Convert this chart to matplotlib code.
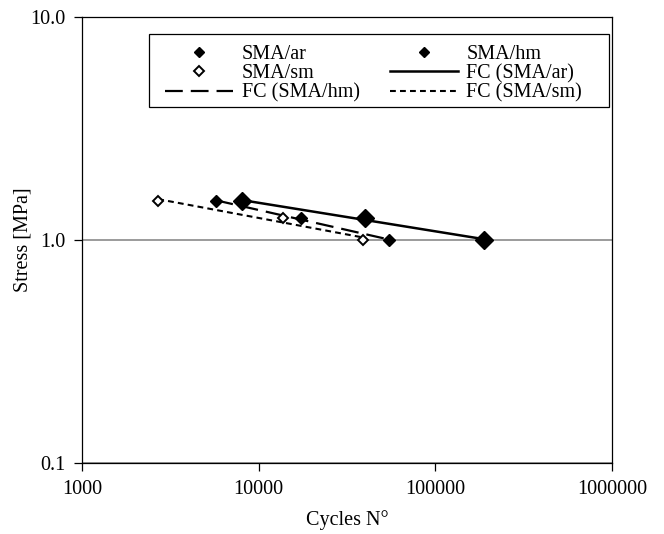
import numpy as np
import matplotlib
matplotlib.use('Agg')
import matplotlib.pyplot as plt
from matplotlib.lines import Line2D
from matplotlib.patches import Rectangle

plt.rcParams['font.family'] = ['Liberation Serif', 'DejaVu Serif']
plt.rcParams['font.size'] = 14.5

# data
cycles_ar = [8000, 40000, 190000]
stress_ar = [1.5, 1.25, 1.0]
cycles_hm = [5700, 17300, 54600]
stress_hm = [1.5, 1.25, 1.0]
cycles_sm = [2700, 13800, 39100]
stress_sm = [1.5, 1.25, 1.0]

x_ticks = [1000, 10000, 100000, 1000000]
y_ticks = [0.1, 1.0, 10.0]


def power_fit(n, s):
    # straight line in log-log space, drawn over the range of the data
    k, b = np.polyfit(np.log10(n), np.log10(s), 1)
    xs = np.array([min(n), max(n)])
    return xs, 10 ** (b + k * np.log10(xs))


fig = plt.figure(figsize=(6.64, 5.34), dpi=100)
ax = fig.add_axes([0.1235, 0.133, 0.798, 0.835])

ax.set_xscale('log')
ax.set_yscale('log')
ax.set_xlim(1000, 1000000)
ax.set_ylim(0.1, 10)

ax.set_xticks(x_ticks)
ax.set_xticklabels(['%d' % t for t in x_ticks])
ax.set_yticks(y_ticks)
ax.set_yticklabels(['%.1f' % t for t in y_ticks])
ax.minorticks_off()
ax.tick_params(direction='out', length=6, width=0.9, pad=6)
ax.yaxis.grid(True, color='#808080', lw=1.1)
ax.set_axisbelow(True)
for sp in ax.spines.values():
    sp.set_linewidth(0.9)

# fitted curves
x, y = power_fit(cycles_ar, stress_ar)
ax.plot(x, y, color='black', lw=1.8)
x, y = power_fit(cycles_hm, stress_hm)
ax.plot(x, y, color='black', lw=1.6, dashes=(8, 3.6))
x, y = power_fit(cycles_sm, stress_sm)
ax.plot(x, y, color='black', lw=1.5, dashes=(2.8, 2))

# data points
ax.plot(cycles_ar, stress_ar, 'D', color='black', ms=9, zorder=5)
ax.plot(cycles_hm, stress_hm, 'D', color='black', ms=6.3, zorder=5)
ax.plot(cycles_sm, stress_sm, 'D', mfc='white', mec='black', mew=1.4,
        ms=5, zorder=5)

ax.set_xlabel('Cycles N°', labelpad=8)
ax.set_ylabel('Stress [MPa]', labelpad=-2)

h_ar = Line2D([], [], ls='none', marker='D', color='black', ms=5.5)
h_hm = Line2D([], [], ls='none', marker='D', color='black', ms=5.5)
h_sm = Line2D([], [], ls='none', marker='D', mfc='white', mec='black',
              mew=1.4, ms=5)
h_far = Line2D([], [], color='black', lw=1.8)
h_fhm = Line2D([], [], color='black', lw=1.6, dashes=(8, 3.6))
h_fsm = Line2D([], [], color='black', lw=1.5, dashes=(2.8, 2))

handles = [h_ar, h_sm, h_fhm, h_hm, h_far, h_fsm]
labels = ['SMA/ar', 'SMA/sm', 'FC (SMA/hm)', 'SMA/hm', 'FC (SMA/ar)',
          'FC (SMA/sm)']
leg = ax.legend(handles, labels, ncol=2, loc='upper left',
                bbox_to_anchor=(0.1566, 0.937), frameon=False, borderpad=0,
                handlelength=3.4, handletextpad=0.4, columnspacing=1.5,
                labelspacing=0, borderaxespad=0)

ax.add_patch(Rectangle((0.1264, 0.798), 0.868, 0.164, transform=ax.transAxes,
                       fill=False, ec='black', lw=0.9, zorder=6))

fig.savefig('out.png', dpi=100)
